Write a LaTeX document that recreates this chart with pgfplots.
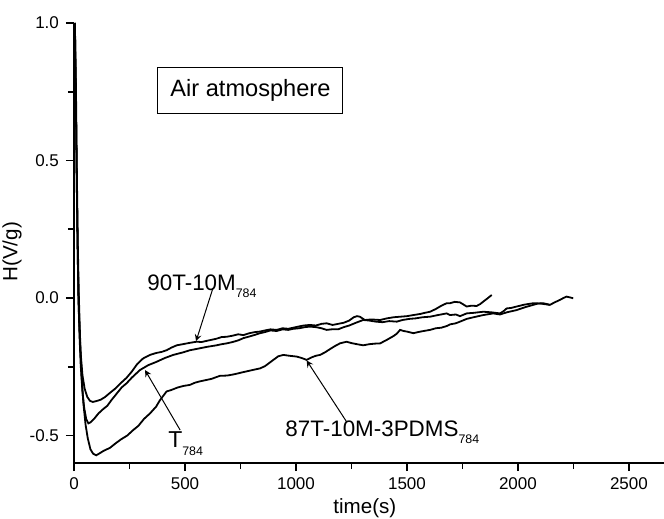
\documentclass[border=0pt]{standalone}
\usepackage{fontspec}
\setmainfont{Liberation Sans}
\usepackage{pgfplots}
\pgfplotsset{compat=1.18}

\pgfplotstableread{
x y
4 1.0
8 0.75
12 0.45
16 0.2
20 0.0
25 -0.12
30 -0.2
38 -0.28
48 -0.33
60 -0.36
72 -0.374
85 -0.378
100 -0.375
120 -0.37
140 -0.36
162 -0.345
185 -0.33
210 -0.31
237 -0.29
260 -0.268
285 -0.24
311 -0.22
342 -0.207
370 -0.2
395 -0.196
417 -0.19
440 -0.18
463 -0.172
490 -0.168
522 -0.163
552 -0.159
575 -0.16
597 -0.156
620 -0.152
642 -0.148
665 -0.142
688 -0.141
715 -0.137
740 -0.132
763 -0.135
790 -0.128
815 -0.124
838 -0.122
860 -0.118
885 -0.114
913 -0.116
940 -0.11
965 -0.112
988 -0.108
1010 -0.104
1035 -0.1
1063 -0.098
1090 -0.1
1115 -0.094
1138 -0.092
1165 -0.098
1190 -0.094
1215 -0.09
1240 -0.082
1260 -0.07
1275 -0.066
1288 -0.068
1310 -0.08
1340 -0.078
1379 -0.08
1410 -0.074
1440 -0.07
1470 -0.068
1500 -0.066
1529 -0.062
1560 -0.058
1580 -0.054
1604 -0.05
1630 -0.04
1655 -0.028
1679 -0.019
1694 -0.019
1715 -0.014
1739 -0.016
1769 -0.031
1790 -0.028
1814 -0.029
1830 -0.022
1844 -0.013
1862 -0.002
1882 0.011
}\ninetyT

\pgfplotstableread{
x y
4 1.0
8 0.75
12 0.45
16 0.2
20 0.0
25 -0.14
30 -0.24
38 -0.34
46 -0.40
55 -0.44
65 -0.456
75 -0.452
90 -0.44
110 -0.42
130 -0.405
150 -0.392
170 -0.37
195 -0.345
215 -0.325
237 -0.31
260 -0.29
297 -0.262
335 -0.244
372 -0.232
410 -0.218
447 -0.207
490 -0.198
522 -0.19
560 -0.184
597 -0.178
642 -0.172
665 -0.168
688 -0.165
715 -0.16
740 -0.154
763 -0.146
790 -0.14
815 -0.134
838 -0.128
860 -0.124
885 -0.118
913 -0.12
940 -0.114
965 -0.116
988 -0.112
1015 -0.11
1040 -0.106
1063 -0.104
1090 -0.106
1115 -0.11
1138 -0.116
1160 -0.114
1190 -0.114
1215 -0.106
1240 -0.1
1270 -0.09
1303 -0.08
1330 -0.082
1360 -0.086
1390 -0.088
1420 -0.084
1454 -0.086
1480 -0.08
1510 -0.076
1540 -0.074
1570 -0.07
1604 -0.068
1640 -0.062
1679 -0.056
1694 -0.062
1720 -0.06
1739 -0.066
1769 -0.056
1800 -0.054
1844 -0.05
1880 -0.052
1919 -0.056
1935 -0.048
1949 -0.038
1970 -0.036
1994 -0.031
2030 -0.024
2069 -0.019
2100 -0.02
2144 -0.025
2165 -0.016
2189 -0.007
2205 0.0
2219 0.005
2235 0.002
2249 -0.001
}\Tsev

\pgfplotstableread{
x y
4 1.0
9 0.75
13 0.45
17 0.2
22 0.0
28 -0.16
34 -0.28
42 -0.38
52 -0.46
62 -0.51
74 -0.55
86 -0.566
100 -0.572
115 -0.565
135 -0.555
162 -0.545
185 -0.53
210 -0.515
240 -0.5
267 -0.48
290 -0.465
315 -0.44
342 -0.42
370 -0.395
387 -0.372
400 -0.358
417 -0.34
440 -0.334
465 -0.326
492 -0.32
522 -0.316
545 -0.308
568 -0.303
597 -0.298
620 -0.294
640 -0.288
658 -0.283
690 -0.282
718 -0.278
740 -0.274
760 -0.27
793 -0.264
815 -0.26
838 -0.256
860 -0.248
880 -0.236
900 -0.224
920 -0.212
943 -0.207
970 -0.21
1003 -0.213
1025 -0.218
1048 -0.225
1070 -0.216
1090 -0.21
1108 -0.207
1130 -0.198
1153 -0.186
1175 -0.175
1198 -0.165
1228 -0.159
1250 -0.164
1275 -0.168
1303 -0.172
1330 -0.168
1355 -0.166
1379 -0.165
1410 -0.152
1440 -0.138
1454 -0.13
1469 -0.116
1485 -0.12
1499 -0.122
1529 -0.128
1550 -0.124
1575 -0.12
1604 -0.116
1630 -0.11
1655 -0.108
1679 -0.102
1694 -0.096
1720 -0.092
1745 -0.084
1769 -0.076
1800 -0.07
1844 -0.062
1889 -0.056
1919 -0.06
1950 -0.052
1994 -0.044
2030 -0.034
2069 -0.025
2090 -0.02
2114 -0.019
2130 -0.022
2144 -0.025
}\PDMS

\begin{document}
\begin{tikzpicture}
\begin{axis}[
    scale only axis,
    width=295pt, height=220pt,
    xmin=0, xmax=2658,
    ymin=-0.6, ymax=1.0,
    axis lines=left,
    axis line style={-, line width=1pt},
    xtick={0,500,...,2500},
    ytick={-0.5,0,0.5,1.0},
    minor xtick={250,750,...,2250},
    minor ytick={-0.25,0.25,0.75},
    tick align=outside,
    major tick length=4pt,
    minor tick length=3pt,
    tick style={line width=0.9pt, black},
    scaled ticks=false,
    /pgf/number format/assume math mode=true,
    xticklabel style={/pgf/number format/1000 sep={}},
    yticklabel style={/pgf/number format/.cd, fixed, fixed zerofill, precision=1},
    tick label style={font=\fontsize{8.5}{10}\selectfont},
    label style={font=\fontsize{10.3}{12}\selectfont},
    xlabel={time(s)},
    ylabel={H(V/g)},
    xlabel style={at={(axis description cs:0.493,0)}, anchor=center, yshift=-22.5pt},
    ylabel style={at={(axis description cs:-0.105,0.48)}, anchor=center},
    clip=true,
]
\addplot[black, line width=0.9pt] table {\ninetyT};
\addplot[black, line width=0.9pt] table {\Tsev};
\addplot[black, line width=0.9pt] table {\PDMS};

\node[draw, line width=0.5pt, minimum width=92.5pt, minimum height=23pt,
      font=\fontsize{11.8}{14}\selectfont] at (axis cs:795,0.756) {Air atmosphere};

\node[anchor=base west, inner sep=0pt, font=\fontsize{11.2}{13}\selectfont]
  at (axis cs:329,0.029) {90T-10M\raisebox{-3.5pt}{\fontsize{6.2}{7}\selectfont 784}};
\node[anchor=base west, inner sep=0pt, font=\fontsize{11.5}{13}\selectfont]
  at (axis cs:423,-0.542) {T\raisebox{-4pt}{\fontsize{6.2}{7}\selectfont 784}};
\node[anchor=base west, inner sep=0pt, font=\fontsize{11.2}{13}\selectfont]
  at (axis cs:951,-0.505) {87T-10M-3PDMS\raisebox{-3.5pt}{\fontsize{6.2}{7}\selectfont 784}};

\draw[-stealth, line width=0.5pt] (axis cs:626,0.036) -- (axis cs:550,-0.157);
\draw[-stealth, line width=0.5pt] (axis cs:478,-0.48) -- (axis cs:320,-0.262);
\draw[-stealth, line width=0.5pt] (axis cs:1228,-0.45) -- (axis cs:1048,-0.227);
\end{axis}
\pgfresetboundingbox
\path[use as bounding box] ([xshift=-37pt,yshift=-28pt]current axis.south west)
  rectangle ([yshift=11.5pt]current axis.north east);
\end{tikzpicture}
\end{document}
